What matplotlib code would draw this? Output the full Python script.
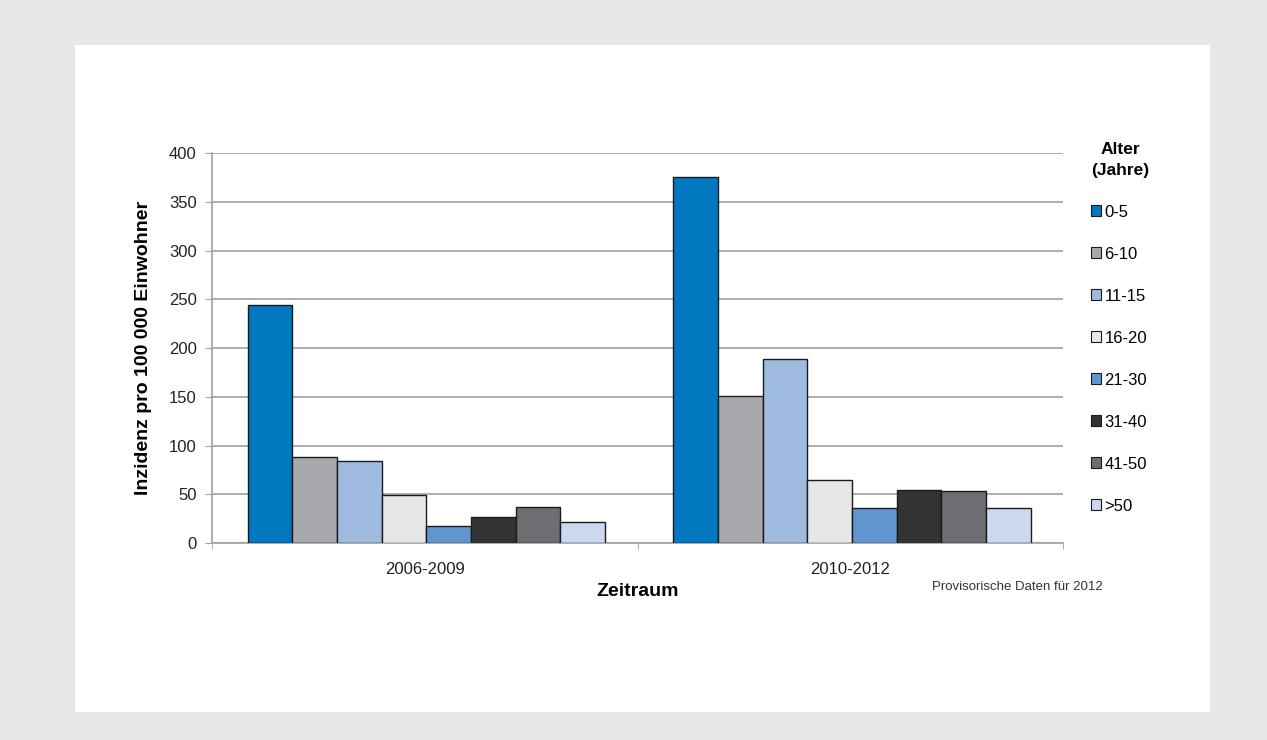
import numpy as np
import matplotlib.pyplot as plt
from matplotlib.patches import Rectangle

plt.rcParams['font.family'] = ['Liberation Sans', 'DejaVu Sans']

periods = ['2006-2009', '2010-2012']
ages = ['0-5', '6-10', '11-15', '16-20', '21-30', '31-40', '41-50', '>50']
values = {
    '0-5':   [244, 375],
    '6-10':  [88, 151],
    '11-15': [84, 189],
    '16-20': [49, 65],
    '21-30': [17, 36],
    '31-40': [27, 54],
    '41-50': [37, 53],
    '>50':   [22, 36],
}
colors = ['#0077be', '#a7a9ac', '#9fbbe0', '#e6e7e8',
          '#6096cf', '#333333', '#6d6e71', '#cbd8ef']

fig = plt.figure(figsize=(12.67, 7.40), dpi=100)
fig.patch.set_facecolor('#e6e7e8')
# white panel
fig.add_artist(Rectangle((75/1267, 1-712/740), (1210-75)/1267, (712-45)/740,
                         transform=fig.transFigure, facecolor='white',
                         edgecolor='none', zorder=0))

ax = fig.add_axes([212/1267, 1-543/740, (1063-212)/1267, (543-153)/740])
ax.set_facecolor('none')

x = np.arange(len(periods))
w = 0.84 / len(ages)
for i, age in enumerate(ages):
    pos = x - 0.42 + w/2 + i*w + 0.004
    ax.bar(pos, values[age], width=w, color=colors[i], edgecolor='#1a1a1a',
           linewidth=1.0, label=age, zorder=3)

ax.set_xlim(-0.5, 1.5)
ax.set_ylim(0, 400)
ax.set_yticks(range(0, 401, 50))
ax.yaxis.grid(True, color='#a0a0a0', linewidth=1.2, zorder=0)
ax.set_axisbelow(True)

for s in ['top', 'right']:
    ax.spines[s].set_visible(False)
ax.spines['left'].set_color('#a0a0a0')
ax.spines['bottom'].set_color('#a0a0a0')
ax.spines['left'].set_linewidth(1.2)
ax.spines['bottom'].set_linewidth(1.2)

ax.set_xticks(x)
ax.set_xticklabels(periods, fontsize=12, color='#222222')
ax.set_xticks([-0.5, 0.5, 1.5], minor=True)
ax.tick_params(axis='x', which='major', length=0, pad=14)
ax.tick_params(axis='x', which='minor', length=4, color='#a0a0a0')
ax.tick_params(axis='y', length=5, color='#a0a0a0', labelsize=12,
               labelcolor='#222222', pad=6)

ax.set_ylabel('Inzidenz pro 100 000 Einwohner', fontsize=14,
              fontweight='bold', labelpad=12)
ax.set_xlabel('Zeitraum', fontsize=14, fontweight='bold', labelpad=4)
fig.text(1103/1267, 1-587/740, 'Provisorische Daten für 2012', fontsize=9.5,
         color='#333333', ha='right', va='center')

leg = ax.legend(loc='upper left', bbox_to_anchor=(1.025, 1.045), frameon=False,
                title='Alter\n(Jahre)', fontsize=12, handlelength=0.6,
                handleheight=0.6, handletextpad=0.2, labelspacing=1.62,
                borderaxespad=0)
leg.get_title().set_fontweight('bold')
leg.get_title().set_fontsize(12.5)
leg.get_title().set_multialignment('center')
leg.get_title().set_linespacing(1.45)
leg._legend_box.align = 'left'
for h in leg.legend_handles:
    h.set_linewidth(0.8)

fig.savefig('out.png', dpi=100, facecolor=fig.get_facecolor())
